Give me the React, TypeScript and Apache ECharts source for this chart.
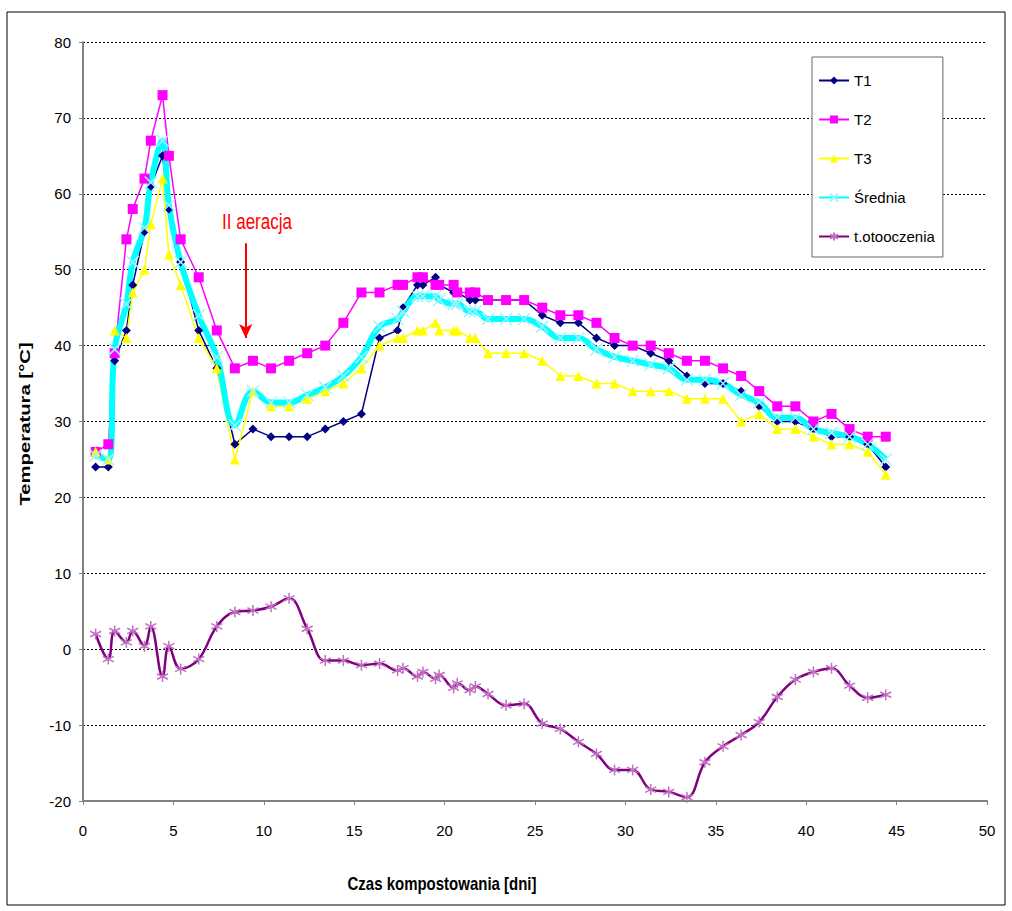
import React, { useEffect, useRef } from "react";
import * as echarts from "echarts";

const days = [0.7, 1.4, 1.75, 2.4, 2.75, 3.4, 3.75, 4.4, 4.75, 5.4, 6.4, 7.4, 8.4, 9.4, 10.4, 11.4, 12.4, 13.4, 14.4, 15.4, 16.4, 17.4, 17.7, 18.5, 18.8, 19.5, 19.7, 20.5, 20.7, 21.4, 21.7, 22.4, 23.4, 24.4, 25.4, 26.4, 27.4, 28.4, 29.4, 30.4, 31.4, 32.4, 33.4, 34.4, 35.4, 36.4, 37.4, 38.4, 39.4, 40.4, 41.4, 42.4, 43.4, 44.4];

const t1 = [24, 24, 38, 42, 48, 55, 61, 65, 58, 51, 42, 37, 27, 29, 28, 28, 28, 29, 30, 31, 41, 42, 45, 48, 48, 49, 48, 47, 47, 46, 46, 46, 46, 46, 44, 43, 43, 41, 40, 40, 39, 38, 36, 35, 35, 34, 32, 30, 30, 29, 28, 28, 27, 24];
const t2 = [26, 27, 39, 54, 58, 62, 67, 73, 65, 54, 49, 42, 37, 38, 37, 38, 39, 40, 43, 47, 47, 48, 48, 49, 49, 48, 48, 48, 47, 47, 47, 46, 46, 46, 45, 44, 44, 43, 41, 40, 40, 39, 38, 38, 37, 36, 34, 32, 32, 30, 31, 29, 28, 28];
const t3 = [26, 25, 42, 41, 47, 50, 56, 62, 52, 48, 41, 37, 25, 34, 32, 32, 33, 34, 35, 37, 40, 41, 41, 42, 42, 43, 42, 42, 42, 41, 41, 39, 39, 39, 38, 36, 36, 35, 35, 34, 34, 34, 33, 33, 33, 30, 31, 29, 29, 28, 27, 27, 26, 23];
const srednia = [25.5, 25, 39.5, 45.5, 51, 55.5, 61.5, 67, 58.5, 51, 44, 38.5, 29.5, 34, 32.5, 32.5, 33.5, 34.5, 36, 38.5, 42.5, 43.5, 44.5, 46.5, 46.5, 46.5, 46, 45.5, 45.5, 44.5, 44.5, 43.5, 43.5, 43.5, 42.5, 41, 41, 39.5, 38.5, 38, 37.5, 37, 35.5, 35.5, 35, 33.5, 32.5, 30.5, 30.5, 29, 28.5, 28, 27, 25];
const otoczenie = [2, -1.3, 2.4, 0.9, 2.4, 0.4, 3, -3.6, 0.4, -2.6, -1.3, 3, 4.9, 5.1, 5.6, 6.7, 2.7, -1.5, -1.5, -2.1, -1.9, -2.8, -2.5, -3.6, -3.0, -3.9, -3.4, -5.1, -4.5, -5.4, -4.9, -5.9, -7.4, -7.2, -9.8, -10.5, -12.2, -13.8, -15.9, -15.9, -18.5, -18.8, -19.5, -14.9, -12.8, -11.3, -9.6, -6.3, -4.0, -3.0, -2.5, -4.8, -6.4, -6.0];

const seriesNames = ["T1", "T2", "T3", "Średnia", "t.otooczenia"];
const arrowDay = 9;
const arrowFrom = 53.5;
const arrowTo = 41;

const FONT = "'Liberation Sans', Arial, sans-serif";

const pair = (vals: number[]) => days.map((d, i) => [d, vals[i]]);

const crossSym = "path://M0,0L10,10M10,0L0,10";
const starSym = "path://M5,0L5,10M0.7,2.5L9.3,7.5M9.3,2.5L0.7,7.5";

export default function App() {
  const ref = useRef<HTMLDivElement>(null);
  useEffect(() => {
    if (!ref.current) return;
    const chart = echarts.init(ref.current, undefined, { renderer: "svg" });
    chart.setOption({
      animation: false,
      backgroundColor: "#ffffff",
      textStyle: { fontFamily: FONT },
      grid: { left: 83, top: 42, width: 904, height: 759, containLabel: false },
      xAxis: {
        type: "value",
        min: 0,
        max: 50,
        interval: 5,
        axisLine: { show: true, onZero: false, lineStyle: { color: "#808080", width: 2 } },
        axisTick: { show: true, length: 4, lineStyle: { color: "#808080" } },
        axisLabel: { color: "#000", fontSize: 15, margin: 22, fontFamily: FONT },
        splitLine: { show: false },
      },
      yAxis: {
        type: "value",
        min: -20,
        max: 80,
        interval: 10,
        axisLine: { show: true, lineStyle: { color: "#808080", width: 2 } },
        axisTick: { show: true, length: 4, lineStyle: { color: "#808080" } },
        axisLabel: { color: "#000", fontSize: 15, margin: 12, fontFamily: FONT },
        splitLine: { show: true, lineStyle: { color: "#000", type: [2, 2], width: 1 } },
      },
      legend: {
        orient: "vertical",
        left: 812,
        top: 57,
        data: seriesNames,
        itemWidth: 30,
        itemHeight: 10,
        itemGap: 24,
        padding: [16, 8, 13, 6],
        borderColor: "#666",
        borderWidth: 1,
        backgroundColor: "#fff",
        textStyle: { fontSize: 15, color: "#000", fontFamily: FONT },
      },
      series: [
        {
          name: "T1",
          type: "line",
          data: pair(t1),
          symbol: "diamond",
          symbolSize: 9,
          itemStyle: { color: "#000080" },
          lineStyle: { color: "#000080", width: 1.5 },
          markLine: {
            silent: true,
            symbol: ["none", "arrow"],
            symbolSize: [10, 14],
            label: { show: false },
            lineStyle: { color: "#ff0000", width: 2, type: "solid" },
            data: [[{ coord: [arrowDay, arrowFrom] }, { coord: [arrowDay, arrowTo] }]],
          },
        },
        {
          name: "T2",
          type: "line",
          data: pair(t2),
          symbol: "rect",
          symbolSize: 10,
          itemStyle: { color: "#ff00ff" },
          lineStyle: { color: "#ff00ff", width: 1.5 },
        },
        {
          name: "T3",
          type: "line",
          data: pair(t3),
          symbol: "triangle",
          symbolSize: 10,
          itemStyle: { color: "#ffff00" },
          lineStyle: { color: "#ffff00", width: 1.5 },
        },
        {
          name: "Średnia",
          type: "line",
          data: pair(srednia),
          smooth: 0.4,
          symbol: crossSym,
          symbolSize: 12,
          itemStyle: { color: "rgba(0,0,0,0)", borderColor: "#9ff5ff", borderWidth: 1.5 },
          lineStyle: { color: "#00ffff", width: 6 },
        },
        {
          name: "t.otooczenia",
          type: "line",
          data: pair(otoczenie),
          smooth: 0.4,
          symbol: starSym,
          symbolSize: 11,
          itemStyle: { color: "rgba(0,0,0,0)", borderColor: "#c070c0", borderWidth: 1.5 },
          lineStyle: { color: "#800080", width: 2.5 },
        },
      ],
      graphic: [
        {
          type: "rect",
          shape: { x: 7, y: 12, width: 998, height: 893 },
          style: { fill: "none", stroke: "#000", lineWidth: 1 },
          silent: true,
        },
        {
          type: "text",
          x: 257,
          y: 221,
          scaleY: 1.3,
          style: {
            text: "II aeracja",
            fill: "#ff0000",
            fontSize: 17,
            fontFamily: FONT,
            textAlign: "center",
            textVerticalAlign: "middle",
          },
        },
        {
          type: "text",
          x: 442,
          y: 884,
          scaleY: 1.2,
          style: {
            text: "Czas kompostowania [dni]",
            fill: "#000",
            fontSize: 15,
            fontWeight: "bold",
            fontFamily: FONT,
            textAlign: "center",
            textVerticalAlign: "middle",
          },
        },
        {
          type: "text",
          x: 25,
          y: 424,
          rotation: Math.PI / 2,
          scaleX: 1.45,
          style: {
            text: "Temperatura [°C]",
            fill: "#000",
            fontSize: 14,
            fontWeight: "bold",
            fontFamily: FONT,
            textAlign: "center",
            textVerticalAlign: "middle",
          },
        },
      ],
    });
    return () => chart.dispose();
  }, []);
  return (
    <div
      ref={ref}
      style={{ position: "absolute", left: 0, top: 0, width: 1012, height: 911 }}
    />
  );
}
